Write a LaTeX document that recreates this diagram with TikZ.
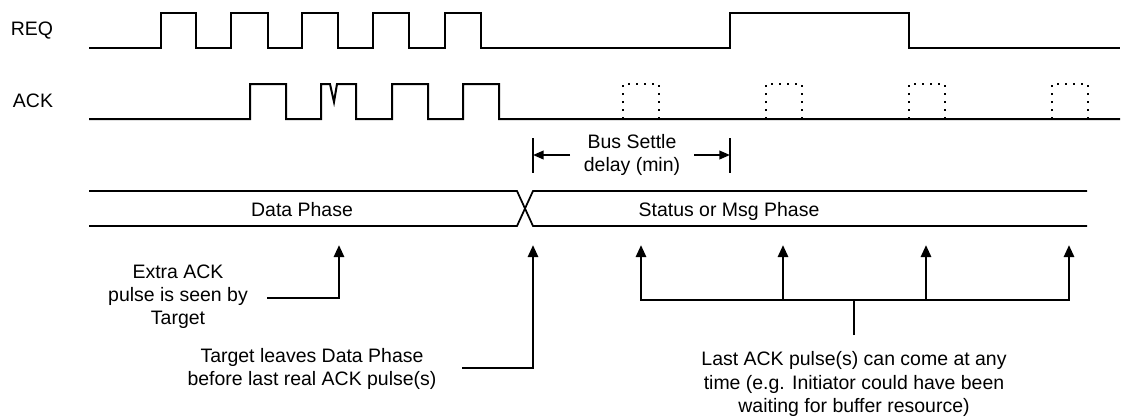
\documentclass[tikz,border=0pt]{standalone}
\usepackage{fontspec}
\setmainfont{Liberation Sans}
\usetikzlibrary{arrows.meta}

\tikzset{every picture/.style={line width=0.75pt}}
\tikzset{
  wave/.style={line width=1.5pt, line join=miter},
  ghost/.style={line width=1.3pt, dash pattern=on 1.8pt off 4.2pt},
  bus/.style={line width=1.3pt},
  callout/.style={line width=2pt, -{Triangle[length=9pt,width=7.5pt]}},
  span/.style={line width=1.3pt, -{Triangle[length=8pt,width=6.5pt]}},
  txt/.style={font=\fontsize{14.6}{17.3}\selectfont, inner sep=0pt, align=center}
}

\begin{document}
\begin{tikzpicture}[x=0.75pt,y=0.75pt,yscale=-1,xscale=1]
\useasboundingbox (0,0) rectangle (1132,419);

%Signal: REQ
\draw [wave] (89,48) -- (161,48) -- (161,13) -- (196,13) -- (196,48) -- (231,48) -- (231,13) -- (268,13) -- (268,48)
  -- (302,48) -- (302,13) -- (338,13) -- (338,48) -- (373,48) -- (373,13) -- (409,13) -- (409,48)
  -- (445,48) -- (445,13) -- (481,13) -- (481,48) -- (730,48) -- (730,13) -- (909,13) -- (909,48) -- (1120,48) ;
%Signal: ACK (with glitch in 2nd pulse)
\draw [wave] (89,119) -- (250,119) -- (250,84) -- (286,84) -- (286,119) -- (321,119) -- (321,84) -- (330,84) -- (334,102) -- (337,84)
  -- (356,84) -- (356,119) -- (392,119) -- (392,84) -- (428,84) -- (428,119) -- (463,119) -- (463,84) -- (499,84) -- (499,119) -- (1120,119) ;
%Possible late ACK pulses
\foreach \x in {623,766,909,1052}
  \draw [ghost] (\x,119) -- (\x,84) -- (\x+36,84) -- (\x+36,119) ;

%Bus settle span
\coordinate (settleL) at (533,155);
\coordinate (settleR) at (730,155);
\draw [bus] (533,138) -- (533,173) ;
\draw [bus] (730,138) -- (730,173) ;
\draw [span] (570,155) -- (settleL) ;
\draw [span] (694,155) -- (settleR) ;

%Phase bus with crossover
\draw [bus] (89,191) -- (517,191) -- (533,226) -- (1087,226) ;
\draw [bus] (89,226) -- (517,226) -- (533,191) -- (1087,191) ;

% Text Node
\node [txt] (reqlbl) at (32,31) {REQ};
% Text Node
\node [txt] (acklbl) at (33,101) {ACK};
% Text Node
\node [txt] (settle) at (632,155) {Bus Settle\\delay (min)};
% Text Node
\node [txt, anchor=base] (dataph) at (302,216) {Data Phase};
% Text Node
\node [txt, anchor=base] (statph) at (729,216) {Status or Msg Phase};
% Text Node
\node [txt] (extra) at (178,297) {Extra ACK\\pulse is seen by\\Target};
% Text Node
\node [txt] (leaves) at (312,369) {Target leaves Data Phase\\before last real ACK pulse(s)};
% Text Node
\node [txt] (anytime) at (854,384) {Last ACK pulse(s) can come at any\\time (e.g. Initiator could have been\\waiting for buffer resource)};

%Callouts
\coordinate (extrafoot) at (267,298);
\coordinate (extratip) at (339,245);
\draw [callout] (extrafoot) -| (extratip) ;
\coordinate (leavefoot) at (462,368);
\coordinate (leavetip) at (533,245);
\draw [callout] (leavefoot) -| (leavetip) ;
\coordinate (stem) at (854,335);
\coordinate (hub) at (854,300);
\draw [line width=2pt] (stem) -- (hub) ;
\draw [callout] (hub) -| (641,245) ;
\draw [callout] (hub) -| (1069,245) ;
\draw [callout] (783,300) -- (783,245) ;
\draw [callout] (926,300) -- (926,245) ;

\end{tikzpicture}
\end{document}
